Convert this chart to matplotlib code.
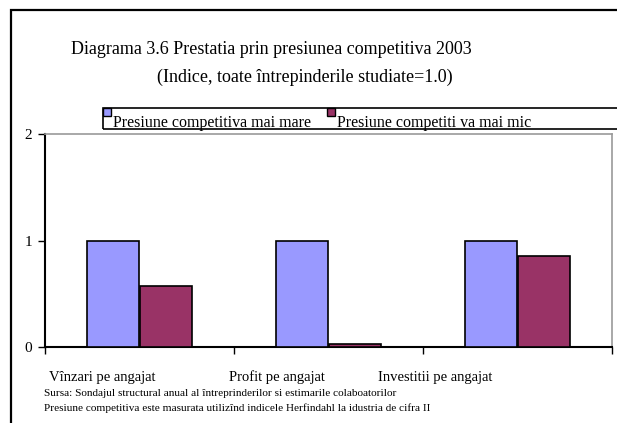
import matplotlib.pyplot as plt
from matplotlib.patches import Rectangle

plt.rcParams['font.family'] = ['Liberation Serif', 'DejaVu Serif']

categories = ['Vînzari pe angajat', 'Profit pe angajat', 'Investitii pe angajat']
mai_mare = [1.0, 1.0, 1.0]
mai_mic = [0.57, 0.03, 0.855]
series_names = ['Presiune competitiva mai mare', 'Presiune competiti va mai mic']
colors = ['#9999FF', '#993366']

W, H = 617, 423
fig = plt.figure(figsize=(W / 100, H / 100), dpi=100)


def fx(px):
    return px / W


def fy(py):
    return 1 - py / H


# outer frame (clipped at right/bottom like the original)
fig.patches.append(Rectangle((fx(11), fy(440)), 1.2, fy(10) - fy(440),
                             transform=fig.transFigure, fill=False,
                             lw=1.6, ec='black'))

ax = fig.add_axes([fx(45), fy(347), fx(612) - fx(45), fy(134) - fy(347)])
x = range(len(categories))
bw = 0.275
ax.bar([i - bw / 2 - 0.005 for i in x], mai_mare, bw, color=colors[0],
       edgecolor='black', lw=1.2, zorder=3)
ax.bar([i + bw / 2 + 0.005 for i in x], mai_mic, bw, color=colors[1],
       edgecolor='black', lw=1.2, zorder=3)

ax.set_xlim(-0.5, 2.5)
ax.set_ylim(0, 2)
ax.set_yticks([0, 1, 2])
ax.tick_params(axis='y', direction='out', length=5, width=1, labelsize=11, pad=4)
ax.set_xticks([-0.5, 0.5, 1.5, 2.5])
ax.set_xticklabels([])
ax.tick_params(axis='x', direction='out', length=5, width=1)
for s in ['left', 'bottom']:
    ax.spines[s].set_linewidth(1.5)
for s in ['top', 'right']:
    ax.spines[s].set_color('#999999')
    ax.spines[s].set_linewidth(1.2)

# category labels
label_px = [102, 277, 435]
for lab, px in zip(categories, label_px):
    fig.text(fx(px), fy(381), lab, ha='center', va='baseline', fontsize=10.5)

# titles
fig.text(fx(271), fy(49), 'Diagrama 3.6 Prestatia prin presiunea competitiva 2003',
         ha='center', va='center', fontsize=13)
fig.text(fx(305), fy(77), '(Indice, toate întrepinderile studiate=1.0)',
         ha='center', va='center', fontsize=13)

# legend box
fig.patches.append(Rectangle((fx(103), fy(129)), 1.0, fy(108) - fy(129),
                             transform=fig.transFigure, fill=False,
                             lw=1.2, ec='black', zorder=1))
for name, col, px, tx in zip(series_names, colors, [103, 327], [113, 337]):
    fig.patches.append(Rectangle((fx(px), fy(116)), fx(8), fy(108) - fy(116),
                                 transform=fig.transFigure, fc=col,
                                 ec='black', lw=1))
    fig.text(fx(tx), fy(123), name, ha='left', va='center', fontsize=11.5)

# notes
fig.text(fx(44), fy(393), 'Sursa: Sondajul structural anual al întreprinderilor si estimarile colaboatorilor',
         ha='left', va='center', fontsize=8.1)
fig.text(fx(44), fy(408), 'Presiune competitiva este masurata utilizînd indicele Herfindahl la idustria de cifra II',
         ha='left', va='center', fontsize=8.1)

fig.savefig('out.png', dpi=100)
